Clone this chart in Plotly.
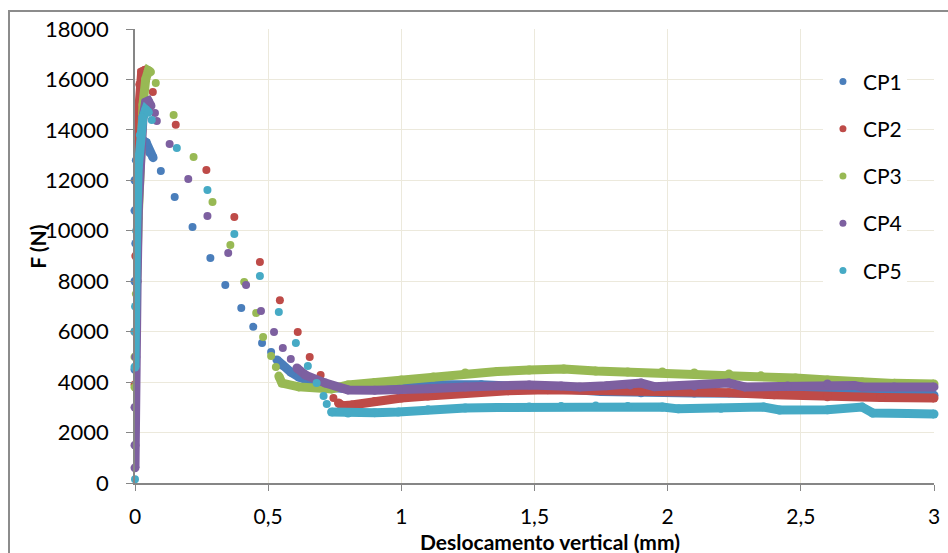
import plotly.graph_objects as go

series_names = ["CP1", "CP2", "CP3", "CP4", "CP5"]
colors = ["#4A7EBB", "#BE4B48", "#98B954", "#7D60A0", "#46AAC5"]

# CP1
cp1_rise_x = [0, 0, 0.003, 0, 0, 0.005, 0.015, 0.028, 0.042, 0.055, 0.068]
cp1_rise_y = [4500, 8000, 9500, 10800, 12000, 12800, 13300, 13600, 13500, 13100, 12900]
cp1_drop_x = [0.097, 0.149, 0.216, 0.283, 0.339, 0.399, 0.444, 0.477, 0.511]
cp1_drop_y = [12370, 11340, 10150, 8920, 7850, 6940, 6190, 5550, 5190]
cp1_plat_x = [0.533, 0.552, 0.585, 0.615, 0.663, 0.715, 0.8, 0.9, 1.0, 1.15, 1.3, 1.45, 1.6, 1.75, 1.9, 2.1, 2.3, 2.5, 2.7, 2.85, 3.0]
cp1_plat_y = [4880, 4680, 4400, 4200, 4000, 3800, 3740, 3800, 3870, 3900, 3900, 3850, 3740, 3630, 3580, 3570, 3560, 3540, 3510, 3500, 3480]

# CP2
cp2_rise_x = [0, 0, 0.003, 0.008, 0.012, 0.018, 0.025, 0.035, 0.045]
cp2_rise_y = [3900, 6000, 9000, 12000, 14500, 15800, 16300, 16350, 16200]
cp2_drop_x = [0.067, 0.153, 0.268, 0.373, 0.469, 0.544, 0.611, 0.656, 0.697, 0.745]
cp2_drop_y = [15500, 14200, 12410, 10550, 8760, 7250, 5990, 5000, 4280, 3370]
cp2_plat_x = [0.764, 0.78, 0.813, 0.9, 1.0, 1.1, 1.24, 1.4, 1.55, 1.73, 1.9, 2.1, 2.23, 2.4, 2.6, 2.8, 3.0]
cp2_plat_y = [3170, 3060, 3090, 3230, 3370, 3450, 3570, 3660, 3700, 3690, 3660, 3620, 3580, 3500, 3420, 3390, 3370]

# CP3
cp3_rise_x = [0, 0, 0.005, 0.012, 0.02, 0.03, 0.04, 0.05, 0.058]
cp3_rise_y = [3800, 5000, 7500, 10500, 13000, 15000, 16000, 16350, 16300]
cp3_drop_x = [0.078, 0.145, 0.22, 0.291, 0.358, 0.41, 0.455, 0.481, 0.511, 0.529]
cp3_drop_y = [15860, 14590, 12925, 11140, 9440, 7970, 6740, 5790, 5040, 4600]
cp3_plat_x = [0.54, 0.552, 0.615, 0.738, 0.8, 0.9, 1.0, 1.12, 1.24, 1.36, 1.48, 1.61, 1.73, 1.85, 1.98, 2.1, 2.23, 2.35, 2.48, 2.6, 2.73, 2.85, 3.0]
cp3_plat_y = [4240, 3960, 3810, 3730, 3890, 3980, 4080, 4200, 4360, 4420, 4480, 4520, 4440, 4400, 4400, 4360, 4320, 4250, 4160, 4080, 4000, 3950, 3925]

# CP4
cp4_rise_x = [0, 0, 0, 0.003, 0.008, 0.013, 0.02, 0.03, 0.04, 0.05, 0.06]
cp4_rise_y = [600, 1500, 3000, 5000, 8000, 11000, 13000, 14500, 15100, 15150, 14950]
cp4_drop_x = [0.075, 0.082, 0.13, 0.2, 0.272, 0.35, 0.417, 0.473, 0.522, 0.555, 0.585]
cp4_drop_y = [14670, 14350, 13440, 12050, 10590, 9120, 7850, 6820, 5990, 5350, 4920]
cp4_plat_x = [0.608, 0.64, 0.715, 0.8, 0.9, 0.988, 1.1, 1.24, 1.36, 1.48, 1.6, 1.67, 1.77, 1.86, 1.9, 1.95, 2.1, 2.23, 2.29, 2.45, 2.6, 2.7, 2.73, 2.85, 3.0]
cp4_plat_y = [4560, 4280, 3960, 3690, 3680, 3690, 3740, 3810, 3860, 3890, 3850, 3810, 3860, 3890, 3960, 3820, 3850, 3960, 3810, 3850, 3925, 3870, 3810, 3810, 3810]

# CP5
cp5_rise_x = [0, 0, 0.002, 0.006, 0.012, 0.02, 0.03, 0.04, 0.05]
cp5_rise_y = [4600, 6000, 7000, 10000, 12500, 13800, 14500, 14800, 14700]
cp5_drop_x = [0, 0.063, 0.157, 0.272, 0.373, 0.469, 0.54, 0.604, 0.649, 0.682, 0.708, 0.72]
cp5_drop_y = [150, 14390, 13280, 11620, 9870, 8210, 6780, 5550, 4640, 3960, 3450, 3130]
cp5_plat_x = [0.738, 0.8, 0.9, 0.988, 1.1, 1.24, 1.36, 1.48, 1.6, 1.73, 1.85, 1.98, 2.04, 2.2, 2.36, 2.42, 2.6, 2.73, 2.77, 2.9, 3.0]
cp5_plat_y = [2815, 2775, 2790, 2815, 2900, 2970, 2990, 3010, 3030, 3050, 3030, 3010, 2940, 2960, 3010, 2895, 2900, 3010, 2775, 2760, 2735]

x_tick_vals = [0, 0.5, 1, 1.5, 2, 2.5, 3]
x_tick_text = ["0", "0,5", "1", "1,5", "2", "2,5", "3"]
y_tick_vals = [0, 2000, 4000, 6000, 8000, 10000, 12000, 14000, 16000, 18000]
y_tick_text = ["0", "2000", "4000", "6000", "8000", "10000", "12000", "14000", "16000", "18000"]

data = [
    (cp1_rise_x, cp1_rise_y, cp1_drop_x, cp1_drop_y, cp1_plat_x, cp1_plat_y),
    (cp2_rise_x, cp2_rise_y, cp2_drop_x, cp2_drop_y, cp2_plat_x, cp2_plat_y),
    (cp3_rise_x, cp3_rise_y, cp3_drop_x, cp3_drop_y, cp3_plat_x, cp3_plat_y),
    (cp4_rise_x, cp4_rise_y, cp4_drop_x, cp4_drop_y, cp4_plat_x, cp4_plat_y),
    (cp5_rise_x, cp5_rise_y, cp5_drop_x, cp5_drop_y, cp5_plat_x, cp5_plat_y),
]

fig = go.Figure()
MS = 8
for name, col, (rx, ry, dx, dy, px, py) in zip(series_names, colors, data):
    # dense parts (rise and plateau)
    fig.add_trace(go.Scatter(
        x=rx + [None] + px, y=ry + [None] + py, mode="lines+markers",
        line=dict(color=col, width=9), marker=dict(color=col, size=MS + 1),
        showlegend=False, cliponaxis=False, hoverinfo="skip"))
    # sparse points
    fig.add_trace(go.Scatter(
        x=dx, y=dy, mode="markers", marker=dict(color=col, size=MS),
        showlegend=False, cliponaxis=False))

for i, (name, col) in enumerate(zip(series_names, colors)):
    fig.add_trace(go.Scatter(
        x=[None], y=[None], mode="markers", name=name, legendgroup=name,
        marker=dict(color=col, size=7)))

grid_col = "#ECE9DC"
axis_col = "#868686"
font_fam = "Lato, Carlito, sans-serif"

fig.update_layout(
    width=948, height=553,
    margin=dict(l=135, r=8, t=29, b=70),
    paper_bgcolor="white", plot_bgcolor="white",
    font=dict(family=font_fam, color="black"),
    xaxis=dict(range=[0, 3], tickvals=x_tick_vals, ticktext=x_tick_text,
               showgrid=True, gridcolor=grid_col, gridwidth=1,
               showline=True, linecolor=axis_col, linewidth=1.5,
               ticks="outside", ticklen=6, tickcolor=axis_col,
               tickfont=dict(size=21, family=font_fam), ticklabelstandoff=8,
               zeroline=False),
    yaxis=dict(range=[0, 18000], tickvals=y_tick_vals, ticktext=y_tick_text,
               showgrid=True, gridcolor=grid_col, gridwidth=1,
               showline=True, linecolor=axis_col, linewidth=1.5,
               ticks="outside", ticklen=7, tickcolor=axis_col,
               tickfont=dict(size=22, family=font_fam), ticklabelstandoff=13,
               zeroline=False),
    legend=dict(x=0.861, y=0.929, xanchor="left", yanchor="top",
                bgcolor="white", font=dict(size=21, family=font_fam),
                traceorder="grouped", tracegroupgap=17),
    showlegend=True,
)

fig.add_annotation(text="<b>Deslocamento vertical (mm)</b>", xref="paper", yref="paper",
                   x=(553 - 135) / 805, y=-(541 - 483) / 454, showarrow=False,
                   xanchor="center", yanchor="middle",
                   font=dict(size=21, family=font_fam, color="black"))
fig.add_annotation(text="<b>F (N)</b>", xref="paper", yref="paper",
                   x=(37 - 135) / 805, y=(483 - 247) / 454, showarrow=False,
                   textangle=-90, xanchor="center", yanchor="middle",
                   font=dict(size=21, family=font_fam, color="black"))

# outer chart frame (left and top edges)
frame_js = (
    "document.body.style.margin='0';document.body.style.overflow='hidden';"
    "var f=document.createElement('div');"
    "f.style.cssText='position:absolute;left:8px;top:10px;width:1200px;height:1200px;"
    "border-left:2px solid #8C8C8C;border-top:2px solid #8C8C8C;pointer-events:none;';"
    "document.body.appendChild(f);"
)

fig.write_html("out.html", config={"displayModeBar": False}, post_script=frame_js)
